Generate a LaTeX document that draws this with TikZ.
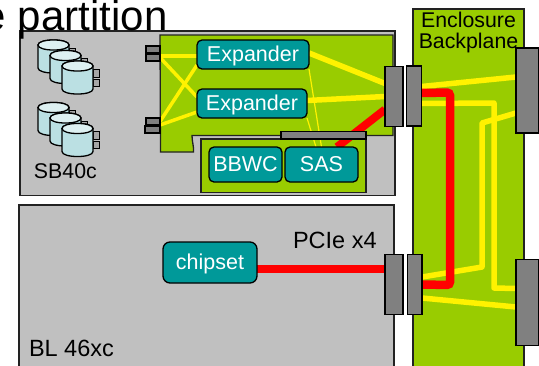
\documentclass[tikz,border=0pt]{standalone}
\usepackage{fontspec}
\setmainfont{Liberation Sans}
\pgfdeclarelayer{bg}
\pgfdeclarelayer{mid}
\pgfsetlayers{bg,mid,main}
\definecolor{boxgray}{HTML}{C0C0C0}
\definecolor{cardgreen}{HTML}{99CC00}
\definecolor{chipteal}{HTML}{009999}
\definecolor{conngray}{HTML}{808080}
\definecolor{drumblue}{HTML}{BBE0E3}
\definecolor{drumtop}{HTML}{DDF0F1}
\definecolor{edge}{HTML}{222222}
\tikzset{
  x=1pt,y=-1pt,
  every node/.style={inner sep=0pt,outer sep=0pt},
  panel/.style={draw=edge,line width=1.3pt,fill=boxgray},
  greenpart/.style={draw=edge,line width=1.3pt,fill=cardgreen},
  chip/.style={draw=black,line width=1.3pt,fill=chipteal,rounded corners=5pt,text=white,anchor=north west,
     font=\fontsize{21.5}{21.5}\selectfont},
  lowtext/.style={text height=15pt,text depth=2pt},
  conn/.style={draw=black,line width=1.3pt,fill=conngray,anchor=north west},
  lbl/.style={anchor=base west,text=black},
  yel/.style={draw=yellow,line width=5.5pt},
  yelthin/.style={draw=yellow,line width=3.5pt},
  yelhair/.style={draw=yellow,line width=1.2pt},
  redline/.style={draw=red,line width=8.5pt,rounded corners=3pt},
  pics/drum/.style={code={
    \filldraw[draw=black,line width=1pt,fill=conngray!70!white] (31,8) rectangle (37,16);
    \filldraw[draw=black,line width=1pt,fill=conngray!70!white] (31,18) rectangle (37,25);
    \filldraw[draw=black,line width=1.3pt,fill=drumblue]
      (0,5) -- (0,28) .. controls (0,34.7) and (31,34.7) .. (31,28) -- (31,5)
      .. controls (31,-1.7) and (0,-1.7) .. (0,5) -- cycle;
    \filldraw[draw=black,line width=1.3pt,fill=drumtop]
      (0,5) .. controls (0,11.7) and (31,11.7) .. (31,5)
      .. controls (31,-1.7) and (0,-1.7) .. (0,5) -- cycle;
  }}
}
\begin{document}
\begin{tikzpicture}
\useasboundingbox (0,0) rectangle (539,365);
\clip (0,0) rectangle (539,365);

\begin{pgfonlayer}{bg}
  \fill[white] (0,0) rectangle (539,365);
  \path[panel] (20,31) rectangle (395,195.5);
  \path[panel] (19,205) rectangle (394,372);
  \path[greenpart] (160,35) -- (393,35) -- (393,135.5) -- (192,135.5)
     .. controls (192,142) and (194,146) .. (193.5,152) -- (160.5,152) -- cycle;
  \path[greenpart] (201,139) rectangle (366,192.5);
  \path[greenpart] (413,9) rectangle (524,372);
\end{pgfonlayer}

% drums
\pic at (38,40) {drum};
\pic at (50,50.5) {drum};
\pic at (62,61) {drum};
\pic at (38,102.5) {drum};
\pic at (50,113) {drum};
\pic at (62,123.5) {drum};

% nodes
\node[chip,lowtext,minimum width=112pt,minimum height=29pt] (exp1) at (197,40) {Expander};
\node[chip,lowtext,minimum width=110pt,minimum height=29pt] (exp2) at (197,89) {Expander};
\node[chip,minimum width=73pt,minimum height=35pt] (bbwc) at (209,147) {BBWC};
\node[chip,minimum width=73pt,minimum height=35pt] (sas) at (285,147) {SAS};
\node[chip,lowtext,minimum width=94pt,minimum height=41pt,rounded corners=7pt] (chipset) at (163,242) {chipset};

\node[conn,minimum width=14pt,minimum height=7pt] (pa) at (146,46) {};
\node[conn,minimum width=14pt,minimum height=7pt] (pb) at (146,54) {};
\node[conn,minimum width=14pt,minimum height=7pt] (pc) at (146,118) {};
\node[conn,minimum width=15pt,minimum height=7pt] (pd) at (145,126) {};
\node[conn,minimum width=85pt,minimum height=7.5pt] (strip) at (281,131.5) {};

\node[conn,minimum width=18pt,minimum height=60pt] (la) at (385,66.5) {};
\node[conn,minimum width=15pt,minimum height=60pt] (ra) at (406.5,66) {};
\node[conn,minimum width=18pt,minimum height=60pt] (lb) at (385,254.5) {};
\node[conn,minimum width=14.5pt,minimum height=60pt] (rb) at (407.5,254.5) {};
\node[conn,minimum width=22.5pt,minimum height=85pt] (ea) at (516,48) {};
\node[conn,minimum width=22.5pt,minimum height=86pt] (eb) at (516,259.5) {};

% bends
\coordinate (y2a) at (494,103);
\coordinate (y2b) at (494,288);
\coordinate (y3a) at (482,123);
\coordinate (y3b) at (482,267);
\coordinate (r1) at (450,92.5);
\coordinate (r2) at (450,285);

\begin{pgfonlayer}{mid}
  % card traces
  \draw[yelthin] ([yshift=1.5pt]pb.east) -- ([yshift=-1.5pt]exp1.west);
  \draw[yelthin] (pb.east) -- ([yshift=6.5pt]exp2.west);
  \draw[yelthin] (pc.east) -- ([yshift=-10.5pt]exp1.west);
  \draw[yelthin] ([yshift=-3.5pt]pc.east) -- ([yshift=-8.5pt]exp2.west);
  \draw[yelhair] (exp1.south east) -- (sas.north);
  \draw[yelhair] (exp2.south east) -- ([xshift=-5.5pt]sas.north);
  \draw[yel] ([yshift=1.5pt]exp1.east) -- ([yshift=13pt]la.west);
  \draw[yel] ([yshift=3pt]exp2.east) -- (la.west);
  \draw[draw=red,line width=8pt] ([xshift=15.5pt]sas.north) -- ([yshift=-13pt]la.west);
  % backplane traces
  \draw[yel] ([yshift=9.5pt]ra.east) -- ([yshift=13.5pt]ea.west);
  \draw[yel,line join=round] ([yshift=-7.5pt]ra.east) -- (y2a) -- (y2b) -- ([yshift=14pt]eb.west);
  \draw[yel,line join=round] ([yshift=-22.5pt]ea.west) -- (y3a) -- (y3b) -- ([yshift=7.5pt]rb.east);
  \draw[yel] ([yshift=-13.5pt]rb.east) -- ([yshift=-4.5pt]eb.west);
  \draw[redline] ([yshift=3pt]ra.east) -- (r1) -- (r2) -- (rb.east);
  \draw[draw=red,line width=8.5pt] ([yshift=-6.5pt]chipset.east) -- ([yshift=15.5pt]lb.west);
\end{pgfonlayer}

% labels
\node[lbl,font=\fontsize{21.3}{21.3}\selectfont] (sb) at (34,178) {SB40c};
\node[lbl,font=\fontsize{23.5}{23.5}\selectfont] (pcie) at (293,248) {PCIe x4};
\node[lbl,font=\fontsize{23.5}{23.5}\selectfont] (bl) at (29,356) {BL 46xc};
\node[anchor=north,align=center,font=\fontsize{21.3}{21.3}\selectfont] (enc) at (468.5,12) {Enclosure\\Backplane};
\node[lbl,font=\fontsize{42}{42}\selectfont] (title) at (-17,30) {e partition};
\end{tikzpicture}
\end{document}
